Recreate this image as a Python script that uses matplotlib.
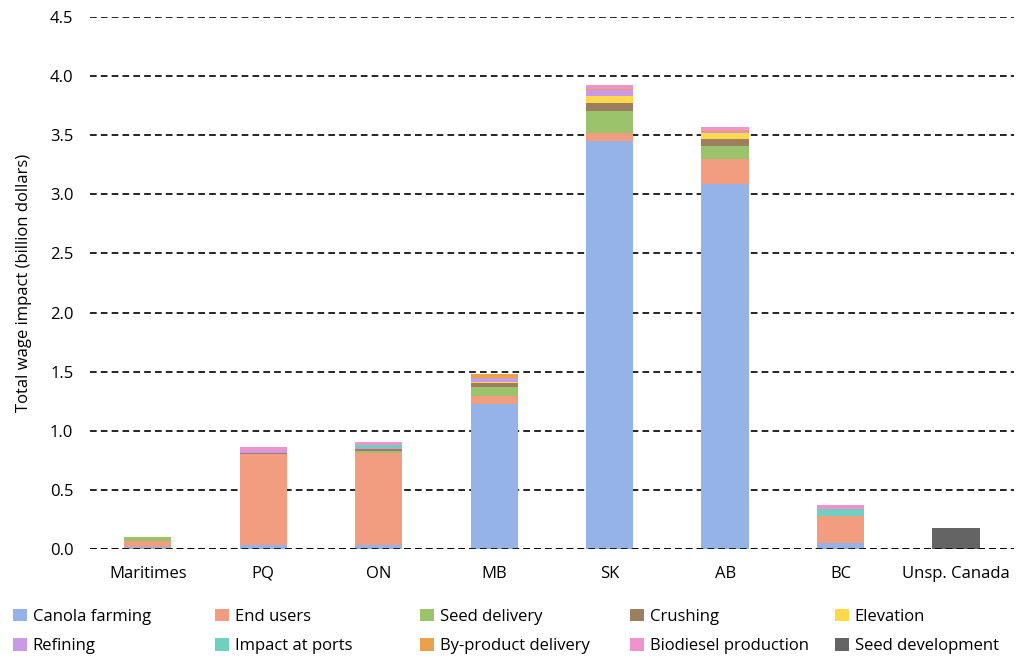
import matplotlib
matplotlib.use("Agg")
import matplotlib.pyplot as plt
import numpy as np
from matplotlib.patches import Patch

plt.rcParams['font.family'] = ['Open Sans', 'DejaVu Sans']

regions = ["Maritimes", "PQ", "ON", "MB", "SK", "AB", "BC", "Unsp. Canada"]

# Wage impact by activity, billion dollars
canola_farming = [0.015, 0.035, 0.035, 1.23, 3.45, 3.09, 0.05, 0.0]
end_users = [0.05, 0.765, 0.78, 0.06, 0.065, 0.21, 0.225, 0.0]
seed_delivery = [0.035, 0.005, 0.017, 0.08, 0.19, 0.11, 0.005, 0.0]
crushing = [0.0, 0.01, 0.011, 0.035, 0.065, 0.06, 0.0, 0.0]
elevation = [0.0, 0.0, 0.0, 0.008, 0.062, 0.05, 0.0, 0.0]
refining = [0.0, 0.01, 0.014, 0.037, 0.048, 0.01, 0.0, 0.0]
impact_at_ports = [0.0, 0.0, 0.02, 0.0, 0.0, 0.0, 0.06, 0.0]
byproduct_delivery = [0.0, 0.0, 0.0, 0.034, 0.014, 0.008, 0.0, 0.0]
biodiesel_production = [0.0, 0.035, 0.03, 0.0, 0.034, 0.035, 0.035, 0.0]
seed_development = [0.0, 0.0, 0.0, 0.0, 0.0, 0.0, 0.0, 0.18]

series = [
    ("Canola farming", canola_farming, "#95B3E7"),
    ("End users", end_users, "#F29C80"),
    ("Seed delivery", seed_delivery, "#9BC36B"),
    ("Crushing", crushing, "#9C7F61"),
    ("Elevation", elevation, "#FFD94A"),
    ("Refining", refining, "#C79BE8"),
    ("Impact at ports", impact_at_ports, "#6FD0C0"),
    ("By-product delivery", byproduct_delivery, "#E9A24B"),
    ("Biodiesel production", biodiesel_production, "#EE93CD"),
    ("Seed development", seed_development, "#646464"),
]

fig = plt.figure(figsize=(10.23, 6.58), dpi=100)
ax = fig.add_axes([0.088, 0.1657, 0.903, 0.8085])

x = np.arange(len(regions))
bottom = np.zeros(len(regions))
handles = []
for name, vals, color in series:
    vals = np.array(vals)
    ax.bar(x, vals, width=0.41, bottom=bottom, color=color, edgecolor="none", zorder=3)
    bottom += vals
    handles.append(Patch(facecolor=color, edgecolor="none", label=name))

ax.set_xlim(-0.5, len(regions) - 0.5)
ax.set_ylim(0, 4.5)
ax.set_yticks(np.arange(0, 4.51, 0.5))
ax.set_yticklabels([f"{v:.1f}" for v in np.arange(0, 4.51, 0.5)], fontsize=12)
ax.set_xticks(x)
ax.set_xticklabels(regions, fontsize=12)
ax.tick_params(axis="both", length=0)
ax.tick_params(axis="x", pad=12)
ax.tick_params(axis="y", pad=12)
for s in ax.spines.values():
    s.set_visible(False)
ax.yaxis.grid(True, color="black", linestyle=(0, (4, 2.5)), linewidth=1.2, zorder=0)
ax.axhline(0, color="black", linestyle=(0, (4, 2.5)), linewidth=1.2, zorder=4)
ax.set_ylabel("Total wage impact (billion dollars)", fontsize=12, labelpad=13)

# Legend laid out in five evenly spaced columns, two rows
col_x = [15, 217, 422, 632, 837]
for c in range(5):
    pair = [handles[c], handles[c + 5]]
    fig.legend(handles=pair, loc="upper left",
               bbox_to_anchor=(col_x[c] / 1023 - 0.008, 1 - 602 / 658),
               frameon=False, fontsize=12, handlelength=0.8, handleheight=0.8,
               handletextpad=0.35, labelspacing=0.78, borderaxespad=0)

fig.savefig("out.png", dpi=100)
